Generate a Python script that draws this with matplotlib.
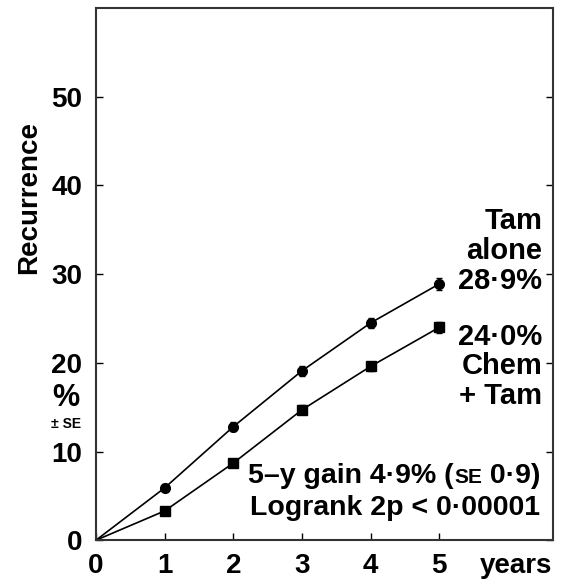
import matplotlib
matplotlib.use("Agg")
import matplotlib.pyplot as plt
from matplotlib.transforms import offset_copy

plt.rcParams["font.family"] = ["Liberation Sans", "DejaVu Sans"]
plt.rcParams["font.weight"] = "bold"

years = [0, 1, 2, 3, 4, 5]
tam_alone = [0, 5.9, 12.8, 19.1, 24.5, 28.9]
tam_alone_se = [0, 0.4, 0.5, 0.6, 0.6, 0.7]
chem_tam = [0, 3.3, 8.7, 14.7, 19.6, 24.0]
chem_tam_se = [0, 0.3, 0.4, 0.5, 0.5, 0.6]

x_ticks = [0, 1, 2, 3, 4, 5]
y_ticks = [0, 10, 20, 30, 40, 50]

fig = plt.figure(figsize=(5.68, 5.79), dpi=100)
ax = fig.add_axes([0.169, 0.067, 0.805, 0.919])

for vals, se, marker, msize in [
    (tam_alone, tam_alone_se, "o", 7),
    (chem_tam, chem_tam_se, "s", 6.5),
]:
    ax.plot(years, vals, color="black", linewidth=1.2)
    ax.errorbar(years[1:], vals[1:], yerr=se[1:], fmt=marker, color="black",
                markersize=msize, elinewidth=1.0, capsize=2, capthick=1.0)

ax.set_xlim(0, 6.66)
ax.set_ylim(0, 60)
ax.set_xticks(x_ticks)
ax.set_yticks(y_ticks)
ax.tick_params(direction="in", length=5, width=1, labelsize=20, right=True)
ax.tick_params(axis="y", pad=10)
ax.tick_params(axis="x", pad=9)
for lab in ax.get_xticklabels() + ax.get_yticklabels():
    lab.set_fontweight("bold")
for side in ax.spines.values():
    side.set_linewidth(1.5)
    side.set_color("#333333")

ax.text(6.12, -3.72, "years", ha="center", va="baseline", fontsize=20,
        fontweight="bold", clip_on=False)

ax.text(-0.98, 38.6, "Recurrence", rotation=90, ha="center", va="center",
        fontsize=20, fontweight="bold", clip_on=False)
ax.text(-0.44, 16.0, "%", ha="center", va="center", fontsize=22,
        fontweight="bold", clip_on=False)
ax.text(-0.44, 13.1, "± SE", ha="center", va="center", fontsize=10,
        fontweight="bold", clip_on=False)

ax.text(6.50, 32.6, "Tam\nalone\n28·9%", ha="right", va="center",
        fontsize=21, fontweight="bold", linespacing=1.08)
ax.text(6.50, 19.6, "24·0%\nChem\n+ Tam", ha="right", va="center",
        fontsize=21, fontweight="bold", linespacing=1.08)


def right_aligned_pieces(x, y, pieces):
    # place text pieces right to left so the block ends at x
    renderer = fig.canvas.get_renderer()
    trans = ax.transData
    shift = 0.0
    for text, size in reversed(pieces):
        t = ax.text(x, y, text, ha="right", va="baseline", fontsize=size,
                    fontweight="bold",
                    transform=offset_copy(trans, fig=fig, x=-shift, y=0,
                                          units="points"))
        w = t.get_window_extent(renderer).width
        shift += w * 72.0 / fig.dpi


right_aligned_pieces(6.47, 6.43, [("5–y gain 4·9% (", 20.5), ("SE", 15),
                                  (" 0·9)", 20.5)])
right_aligned_pieces(6.47, 2.82, [("Logrank 2p < 0·00001", 20.5)])

fig.savefig("out.png", dpi=100, facecolor="white")
